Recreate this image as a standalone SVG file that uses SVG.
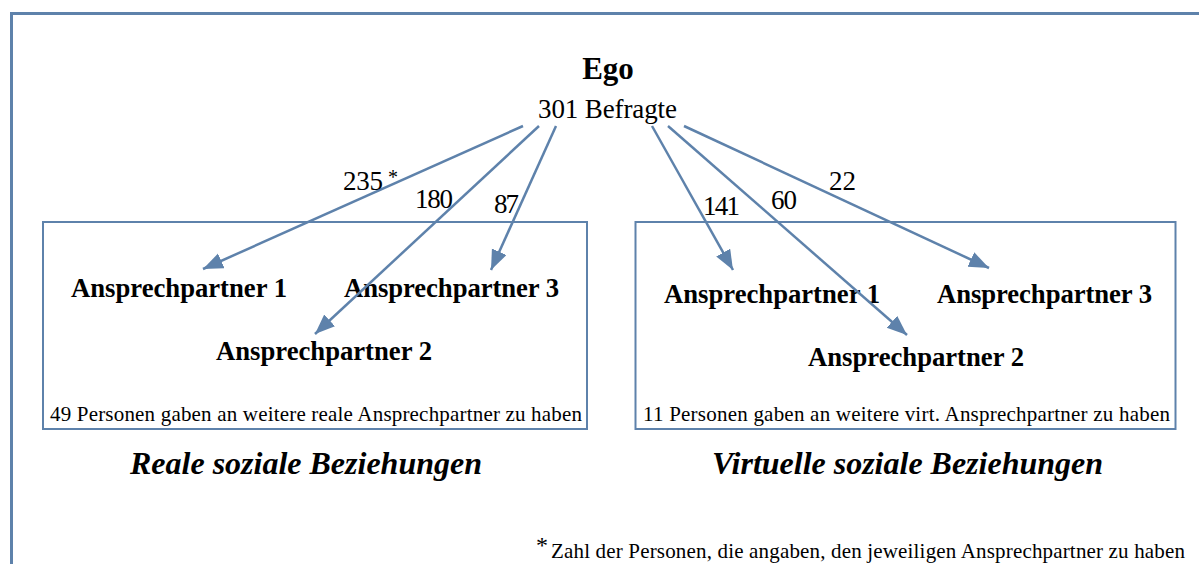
<svg xmlns="http://www.w3.org/2000/svg" width="1199" height="564" viewBox="0 0 1199 564" font-family="'Liberation Serif', 'Times New Roman', serif">
<defs>
<style>
.frame{fill:none;stroke:#5e82ab;stroke-width:3}
.box{fill:none;stroke:#5e82ab;stroke-width:2}
.conn{stroke:#5e82ab;stroke-width:2.5;fill:none}
.ego{font-size:31px;font-weight:bold}
.sub{font-size:27px}
.num{font-size:27px}
.star{font-size:20px}
.node{font-size:26.7px;font-weight:bold}
.note{font-size:21px}
.head{font-size:32px;font-weight:bold;font-style:italic}
</style>
<marker id="arr" markerUnits="userSpaceOnUse" markerWidth="22" markerHeight="17" refX="20" refY="8" orient="auto" viewBox="0 0 22 17">
<path d="M0,0 L20,8 L0,16 z" fill="#5e82ab"/>
</marker>
</defs>
<rect class="frame" x="11.5" y="13.5" width="1200" height="560"/>
<g id="ego">
<text class="ego" x="608" y="79" text-anchor="middle">Ego</text>
<text class="sub" x="538" y="118" textLength="139">301 Befragte</text>
</g>
<g id="real">
<rect class="box" x="43" y="222" width="544" height="207"/>
<text class="note" x="50" y="421" textLength="532">49 Personen gaben an weitere reale Ansprechpartner zu haben</text>
</g>
<g id="virt">
<rect class="box" x="635.5" y="222" width="540" height="207"/>
<text class="note" x="643" y="421" textLength="527">11 Personen gaben an weitere virt. Ansprechpartner zu haben</text>
</g>
<g id="r-ap1"><text class="node" x="71" y="297" textLength="216">Ansprechpartner 1</text></g>
<g id="r-ap2"><text class="node" x="216" y="360" textLength="216">Ansprechpartner 2</text></g>
<g id="r-ap3"><text class="node" x="344" y="297" textLength="215">Ansprechpartner 3</text></g>
<g id="v-ap1"><text class="node" x="664" y="303" textLength="216">Ansprechpartner 1</text></g>
<g id="v-ap2"><text class="node" x="808" y="366" textLength="216">Ansprechpartner 2</text></g>
<g id="v-ap3"><text class="node" x="937" y="303" textLength="215">Ansprechpartner 3</text></g>
<g id="connectors">
<line class="conn" x1="523" y1="126" x2="203" y2="269" marker-end="url(#arr)"/>
<line class="conn" x1="539" y1="126" x2="315" y2="334" marker-end="url(#arr)"/>
<line class="conn" x1="556" y1="126" x2="491" y2="270" marker-end="url(#arr)"/>
<line class="conn" x1="652" y1="126" x2="733" y2="270" marker-end="url(#arr)"/>
<line class="conn" x1="668" y1="126" x2="907" y2="335" marker-end="url(#arr)"/>
<line class="conn" x1="684" y1="126" x2="989" y2="268" marker-end="url(#arr)"/>
<text class="num" x="343" y="190" textLength="40">235</text>
<text class="star" x="388" y="184">*</text>
<text class="num" x="415" y="208" textLength="38">180</text>
<text class="num" x="494" y="213" textLength="25">87</text>
<text class="num" x="703" y="215" textLength="37">141</text>
<text class="num" x="771" y="209" textLength="26">60</text>
<text class="num" x="829" y="190" textLength="27">22</text>
</g>
<g id="headings">
<text class="head" x="130" y="474" textLength="352">Reale soziale Beziehungen</text>
<text class="head" x="712" y="474" textLength="391">Virtuelle soziale Beziehungen</text>
</g>
<g id="footer">
<text class="star" x="536" y="553" style="font-size:24px">*</text>
<text class="note" x="551" y="558" textLength="634">Zahl der Personen, die angaben, den jeweiligen Ansprechpartner zu haben</text>
</g>
</svg>
